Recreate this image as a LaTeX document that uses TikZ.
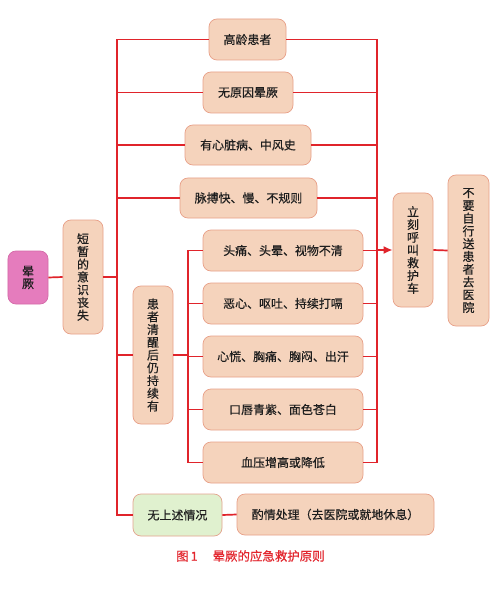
\documentclass[tikz,border=0pt]{standalone}
\usepackage{fontspec}
\newfontfamily\cjk[FakeBold=0.5]{Noto Sans CJK SC}
\usetikzlibrary{arrows.meta}
\definecolor{redline}{HTML}{E0242B}
\definecolor{peach}{HTML}{F5D3BC}
\definecolor{peachedge}{HTML}{E8A088}
\definecolor{pinkfill}{HTML}{E57CBD}
\definecolor{pinkedge}{HTML}{D46AA8}
\definecolor{greenfill}{HTML}{E0F1CF}
\definecolor{greenedge}{HTML}{E3A48E}
\definecolor{txt}{HTML}{1E1E1E}
\definecolor{captred}{HTML}{E3262E}
\tikzset{
  box/.style={draw=peachedge, fill=peach, line width=0.7bp, rounded corners=8bp,
    inner sep=0pt, text=txt, font=\cjk\fontsize{12}{12.8}\selectfont, align=center},
  vbox/.style={box},
  conn/.style={draw=redline, line width=1.7bp},
}
\begin{document}
\begin{tikzpicture}[x=1bp,y=-1bp]
\useasboundingbox[fill=white] (0,0) rectangle (500,606);
% nodes
\node[box, fill=pinkfill, draw=pinkedge, minimum width=40bp, minimum height=53bp] (yun) at (28,277.5) {晕\\厥};
\node[vbox, minimum width=40bp, minimum height=114bp] (duan) at (83,277) {短\\暂\\的\\意\\识\\丧\\失};
\node[box, minimum width=77bp, minimum height=41bp] (gao) at (247.5,39.5) {高龄患者};
\node[box, minimum width=90bp, minimum height=41bp] (wuyin) at (248,92.5) {无原因晕厥};
\node[box, minimum width=126bp, minimum height=40bp] (xinzang) at (248,145) {有心脏病、中风史};
\node[box, minimum width=137bp, minimum height=40bp] (maibo) at (248.5,198) {脉搏快、慢、不规则};
\node[vbox, minimum width=40bp, minimum height=138bp] (huan) at (153,355) {患\\者\\清\\醒\\后\\仍\\持\\续\\有};
\node[box, minimum width=160bp, minimum height=41bp] (tou) at (283,250.5) {头痛、头晕、视物不清};
\node[box, minimum width=160bp, minimum height=41bp] (ex) at (283,303.5) {恶心、呕吐、持续打嗝};
\node[box, minimum width=160bp, minimum height=41bp] (xinh) at (283,356.5) {心慌、胸痛、胸闷、出汗};
\node[box, minimum width=160bp, minimum height=41bp] (kou) at (283,409.5) {口唇青紫、面色苍白};
\node[box, minimum width=160bp, minimum height=41bp] (xue) at (283,462.5) {血压增高或降低};
\node[box, fill=greenfill, draw=greenedge, minimum width=89bp, minimum height=42bp] (none) at (177.5,515) {无上述情况};
\node[box, minimum width=197bp, minimum height=41bp] (zhuo) at (335.5,514.5) {酌情处理（去医院或就地休息）};
\node[vbox, minimum width=40bp, minimum height=114bp] (li) at (413,250) {立\\刻\\呼\\叫\\救\\护\\车};
\node[vbox, minimum width=41bp, minimum height=151bp] (bu) at (468.5,250.5) {不\\要\\自\\行\\送\\患\\者\\去\\医\\院};
\node[text=captred, font=\cjk\fontsize{12.5}{14}\selectfont, anchor=west, inner sep=0pt] (cap) at (176,556) {图\,1\hspace{1.2em}晕厥的应急救护原则};
% trunks
\coordinate (LT) at (117,0);
\coordinate (RT) at (377,0);
\coordinate (IT) at (188,0);
% connectors
\draw[conn] (yun.east) -- (duan.west);
\draw[conn] (duan.east) -- (duan.east -| LT);
\draw[conn] (gao.west) -- (gao.west -| LT) -- (none.west -| LT) -- (none.west);
\draw[conn] (wuyin.west) -- (wuyin.west -| LT);
\draw[conn] (xinzang.west) -- (xinzang.west -| LT);
\draw[conn] (maibo.west) -- (maibo.west -| LT);
\draw[conn] (huan.west) -- (huan.west -| LT);
\draw[conn] (huan.east) -- (huan.east -| IT);
\draw[conn] (tou.west) -- (tou.west -| IT) -- (xue.west -| IT) -- (xue.west);
\draw[conn] (ex.west) -- (ex.west -| IT);
\draw[conn] (xinh.west) -- (xinh.west -| IT);
\draw[conn] (kou.west) -- (kou.west -| IT);
\draw[conn] (gao.east) -- (gao.east -| RT) -- (xue.east -| RT) -- (xue.east);
\draw[conn] (wuyin.east) -- (wuyin.east -| RT);
\draw[conn] (xinzang.east) -- (xinzang.east -| RT);
\draw[conn] (maibo.east) -- (maibo.east -| RT);
\draw[conn] (tou.east) -- (tou.east -| RT);
\draw[conn] (ex.east) -- (ex.east -| RT);
\draw[conn] (xinh.east) -- (xinh.east -| RT);
\draw[conn] (kou.east) -- (kou.east -| RT);
\draw[conn, -{Latex[length=9bp,width=8bp]}] (li.west -| RT) -- (li.west);
\draw[conn] (li.east) -- (bu.west);
\draw[conn] (none.east) -- (zhuo.west);
\end{tikzpicture}
\end{document}
